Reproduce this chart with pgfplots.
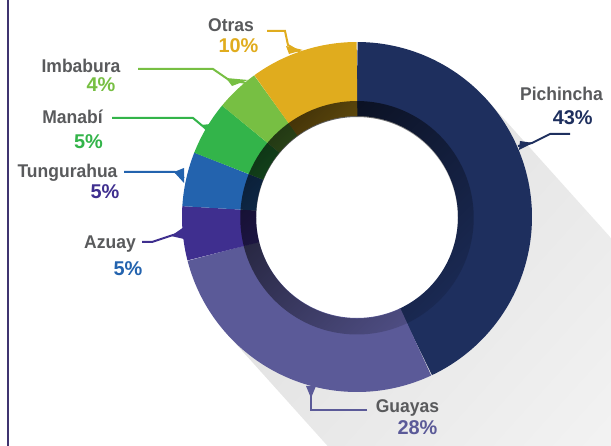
\documentclass[border=0pt]{standalone}
\usepackage{pgfplots}
\pgfplotsset{compat=1.18}
\usepackage{pgfplotstable}
\usepackage{fontspec}
\usetikzlibrary{fadings}
\newfontfamily\labfont{Liberation Sans}[FakeStretch=0.95]
\newfontfamily\pctfont{Liberation Sans}
\definecolor{c0}{HTML}{1E2F5E}
\definecolor{c1}{HTML}{5B5A98}
\definecolor{c2}{HTML}{3F2F8F}
\definecolor{c3}{HTML}{2363AE}
\definecolor{c4}{HTML}{33B44A}
\definecolor{c5}{HTML}{77BF43}
\definecolor{c6}{HTML}{E0AC1E}
\definecolor{namegray}{HTML}{595A5C}
\definecolor{leftline}{HTML}{3F3470}
\tikzfading[name=ringfade, top color=transparent!30, bottom color=transparent!88]
\tikzset{
  nm/.style={anchor=base, text=namegray, font=\labfont\bfseries\fontsize{18.5}{20}\selectfont},
  pc/.style={anchor=base, font=\pctfont\bfseries\fontsize{20}{22}\selectfont},
}
\pgfplotstableread{
name value
Pichincha 43
Guayas 28
Azuay 5
Tungurahua 5
Manabi 5
Imbabura 4
Otras 10
}\datatable
\begin{document}
\begin{tikzpicture}
\xdef\cum{0}
\foreach \i in {0,...,6}{
  \pgfplotstablegetelem{\i}{value}\of\datatable
  \pgfmathsetmacro\a{90-3.6*\cum}
  \pgfmathsetmacro\b{90-3.6*(\cum+\pgfplotsretval)}
  \expandafter\xdef\csname segA\i\endcsname{\a}
  \expandafter\xdef\csname segB\i\endcsname{\b}
  \pgfmathsetmacro\newcum{\cum+\pgfplotsretval}
  \xdef\cum{\newcum}
}
\begin{axis}[
  x=1bp, y=1bp,
  xmin=0, xmax=611, ymin=0, ymax=446,
  hide axis,
]
% long shadow
\shade[top color=black!12, bottom color=black!2, shading angle=48]
  (axis cs:487,346) -- (axis cs:788,11) -- (axis cs:528,-223) -- (axis cs:227,112) -- cycle;
\fill[white] (axis cs:357,229) circle[radius=101bp];
% donut segments
\pgfplotsinvokeforeach{0,...,6}{
  \addplot[draw=c#1, line width=74bp, domain=\csname segB#1\endcsname:\csname segA#1\endcsname, samples=90]
    ({357+138*cos(x)}, {229+138*sin(x)});
}
% inner dark band
\fill[black, path fading=ringfade, fading angle=45, even odd rule]
  (axis cs:357,229) circle[radius=117bp] (axis cs:357,229) circle[radius=101bp];
% left line
\draw[leftline, line width=2.5bp] (axis cs:8,0) -- (axis cs:8,446);
% leaders
\draw[c6, line width=2bp] (axis cs:267,415) -- (axis cs:285,415) -- (axis cs:288,401) -- (axis cs:300,394);
\fill[c6] (axis cs:286,400) -- (axis cs:289,392) -- (axis cs:303,396) -- cycle;
\draw[c5, line width=2bp] (axis cs:138,377) -- (axis cs:213,377) -- (axis cs:229,366) -- (axis cs:246,363);
\fill[c5] (axis cs:226,368) -- (axis cs:232,360) -- (axis cs:248,366) -- cycle;
\draw[c4, line width=2bp] (axis cs:112,328) -- (axis cs:193,328) -- (axis cs:205,318) -- (axis cs:208,314);
\fill[c4] (axis cs:201,321) -- (axis cs:209,313) -- (axis cs:211,322) -- cycle;
\draw[c3, line width=2bp] (axis cs:124,274) -- (axis cs:175,274) -- (axis cs:184,268);
\fill[c3] (axis cs:174,274) -- (axis cs:184,263) -- (axis cs:184,278) -- cycle;
\draw[c2, line width=2bp] (axis cs:142,204) -- (axis cs:152,204) -- (axis cs:173,211) -- (axis cs:183,213);
\fill[c2] (axis cs:171,210) -- (axis cs:184,207) -- (axis cs:184,219) -- cycle;
\draw[c0, line width=2bp] (axis cs:570,312) -- (axis cs:550,312) -- (axis cs:532,303) -- (axis cs:518,300);
\fill[c0] (axis cs:533,303) -- (axis cs:520,305) -- (axis cs:519,296) -- cycle;
\draw[c1, line width=2bp] (axis cs:367,36) -- (axis cs:311,36) -- (axis cs:311,59);
\fill[c1] (axis cs:311,48) -- (axis cs:306,60) -- (axis cs:316,60) -- cycle;
% labels
\node[nm] at (axis cs:231,414) {Otras};
\node[pc, text=c6] at (axis cs:238.5,393) {10\%};
\node[nm] at (axis cs:81,374) {Imbabura};
\node[pc, text=c5] at (axis cs:101,355) {4\%};
\node[nm] at (axis cs:72.5,323) {Manabí};
\node[pc, text=c4] at (axis cs:88.5,298) {5\%};
\node[nm] at (axis cs:67.5,269) {Tungurahua};
\node[pc, text=c2] at (axis cs:105,248) {5\%};
\node[nm] at (axis cs:110,198) {Azuay};
\node[pc, text=c3] at (axis cs:128,171) {5\%};
\node[nm] at (axis cs:561.5,346) {Pichincha};
\node[pc, text=c0] at (axis cs:572.7,322) {43\%};
\node[nm] at (axis cs:407.5,34) {Guayas};
\node[pc, text=c1] at (axis cs:417.5,12) {28\%};
\end{axis}
\pgfresetboundingbox
\useasboundingbox (0,0) rectangle (611bp,446bp);
\end{tikzpicture}
\end{document}
